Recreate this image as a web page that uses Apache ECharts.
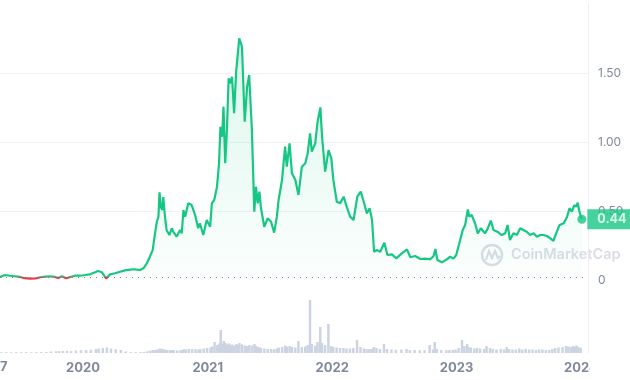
<!DOCTYPE html>
<html><head><meta charset="utf-8">
<script src="https://cdn.jsdelivr.net/npm/echarts@6/dist/echarts.min.js"></script>
<style>html,body{margin:0;padding:0;background:#fff}#c{width:630px;height:380px}</style>
</head><body><div id="c"></div>
<script>
const dates = [
'2019-05-06','2019-05-21','2019-06-04','2019-06-19','2019-07-04','2019-07-18','2019-08-02','2019-08-17','2019-08-31','2019-09-15','2019-09-29','2019-10-14','2019-10-23','2019-11-03','2019-11-15','2019-11-27','2019-12-11','2019-12-26',
'2020-01-10','2020-01-24','2020-02-08','2020-02-16','2020-02-28','2020-03-11','2020-03-23','2020-04-06','2020-04-21','2020-05-05','2020-05-20','2020-06-03','2020-06-18','2020-06-28','2020-07-08','2020-07-17','2020-07-25','2020-08-01','2020-08-06','2020-08-11','2020-08-14','2020-08-18','2020-08-22','2020-08-25','2020-08-30','2020-09-04','2020-09-12','2020-09-19','2020-09-23','2020-10-03','2020-10-13','2020-10-18','2020-10-23','2020-10-28','2020-11-06','2020-11-16','2020-11-26','2020-12-05','2020-12-10','2020-12-20','2020-12-30',
'2021-01-09','2021-01-14','2021-01-21','2021-01-29','2021-02-04','2021-02-08','2021-02-13','2021-02-17','2021-02-22','2021-02-27','2021-03-04','2021-03-09','2021-03-14','2021-03-20','2021-03-26','2021-03-30','2021-04-04','2021-04-12','2021-04-20','2021-04-27','2021-05-03','2021-05-11','2021-05-18','2021-05-23','2021-05-28','2021-06-02','2021-06-06','2021-06-16','2021-06-26','2021-07-06','2021-07-15','2021-07-23','2021-07-28','2021-08-07','2021-08-16','2021-08-21','2021-08-29','2021-09-05','2021-09-15','2021-09-24','2021-10-04','2021-10-14','2021-10-21','2021-10-28','2021-11-02','2021-11-12','2021-11-19','2021-11-27','2021-12-02','2021-12-11','2021-12-21','2021-12-29',
'2022-01-04','2022-01-14','2022-01-24','2022-02-03','2022-02-12','2022-02-22','2022-03-04','2022-03-15','2022-03-25','2022-04-04','2022-04-12','2022-04-20','2022-04-27','2022-05-03','2022-05-11','2022-05-21','2022-06-02','2022-06-11','2022-06-24','2022-07-07','2022-07-23','2022-08-07','2022-08-17','2022-08-31','2022-09-15','2022-09-29','2022-10-14','2022-10-24','2022-10-29','2022-11-04','2022-11-17','2022-12-02','2022-12-11','2022-12-21','2022-12-29',
'2023-01-07','2023-01-17','2023-01-24','2023-02-01','2023-02-05','2023-02-12','2023-02-22','2023-03-02','2023-03-11','2023-03-23','2023-03-30','2023-04-09','2023-04-17','2023-04-28','2023-05-11','2023-05-21','2023-05-28','2023-06-04','2023-06-14','2023-06-24','2023-07-04','2023-07-13','2023-07-23','2023-08-02','2023-08-12','2023-08-22','2023-08-31','2023-09-10','2023-09-20','2023-09-30','2023-10-09','2023-10-17','2023-10-27','2023-11-08','2023-11-18','2023-11-25','2023-12-02','2023-12-09','2023-12-15','2023-12-19','2023-12-24','2023-12-31'
];
const prices = [
0.022,0.036,0.031,0.027,0.022,0.013,0.010,0.011,0.020,0.024,0.027,0.022,0.014,0.027,0.013,0.022,0.031,0.031,
0.036,0.041,0.056,0.065,0.056,0.012,0.041,0.049,0.060,0.070,0.075,0.078,0.072,0.085,0.121,0.169,0.217,0.338,0.42,0.46,0.635,0.53,0.507,0.60,0.46,0.36,0.326,0.375,0.35,0.314,0.362,0.338,0.507,0.459,0.556,0.543,0.471,0.375,0.411,0.326,0.435,
0.386,0.556,0.58,0.676,0.846,1.111,1.038,1.256,0.846,1.087,1.462,1.425,1.473,1.208,1.51,1.498,1.751,1.69,1.147,1.40,1.486,1.087,0.495,0.676,0.556,0.64,0.531,0.386,0.447,0.422,0.343,0.459,0.58,0.725,0.966,0.821,0.99,0.773,0.725,0.616,0.821,0.846,0.918,1.063,0.93,0.99,1.147,1.251,1.038,0.785,0.942,0.882,
0.725,0.567,0.556,0.604,0.531,0.459,0.435,0.604,0.64,0.556,0.483,0.52,0.435,0.205,0.217,0.205,0.27,0.181,0.186,0.157,0.193,0.222,0.165,0.174,0.152,0.155,0.15,0.174,0.225,0.145,0.128,0.15,0.169,0.155,0.181,
0.266,0.362,0.399,0.512,0.459,0.471,0.411,0.338,0.375,0.338,0.367,0.43,0.362,0.35,0.326,0.338,0.399,0.29,0.338,0.326,0.375,0.362,0.35,0.326,0.338,0.314,0.326,0.326,0.319,0.302,0.283,0.338,0.399,0.411,0.459,0.52,0.495,0.543,0.531,0.56,0.495,0.44
];
const volumes = [
8,8,8,9,8,8,8,8,9,10,15,18,18,20,22,18,25,28,
30,32,40,45,50,55,45,38,30,15,8,8,9,12,18,25,30,32,35,38,45,40,35,38,32,30,28,30,28,26,28,30,38,35,42,40,38,35,40,45,50,
55,65,110,80,95,230,90,120,100,85,95,80,85,75,90,80,100,85,75,70,80,75,90,70,60,55,50,45,40,40,38,45,55,60,75,65,70,60,55,120,60,65,80,530,90,75,110,260,100,80,290,70,
60,55,50,50,45,45,50,130,60,45,40,40,40,60,50,40,90,40,35,32,35,40,30,30,28,28,80,35,110,40,30,28,30,30,35,
50,130,70,90,60,55,45,50,45,40,70,50,40,35,40,35,60,40,35,35,45,35,40,35,35,30,35,35,30,30,40,50,55,60,70,65,60,70,65,75,60,55
];
const startPrice = 0.022;
const axisStart = '2019-05-06';
const axisEnd = '2024-01-18';

const GREEN = '#16c784', RED = '#ea3943', GREY = '#808a9d';
const chart = echarts.init(document.getElementById('c'));
const priceData = dates.map((d, i) => [d, prices[i]]);
const volData = dates.map((d, i) => [d, volumes[i]]);
const last = priceData[priceData.length - 1];

const option = {
  animation: false,
  textStyle: { fontFamily: 'Inter' },
  grid: [
    { left: 0, right: 42, top: 4, height: 276 },
    { left: 0, right: 42, top: 281, bottom: 27 }
  ],
  xAxis: [
    { type: 'time', gridIndex: 0, min: axisStart, max: axisEnd,
      axisLine: { show: false }, axisTick: { show: false }, axisLabel: { show: false }, splitLine: { show: false } },
    { type: 'time', gridIndex: 1, min: axisStart, max: axisEnd, splitNumber: 5,
      axisLine: { show: false }, axisTick: { show: false }, splitLine: { show: false },
      axisLabel: {
        formatter: { year: '{yyyy}', month: '', day: '', hour: '', minute: '', second: '', millisecond: '' },
        color: GREY, fontWeight: 'bold', fontSize: 13, margin: 9
      } }
  ],
  yAxis: [
    { type: 'value', gridIndex: 0, position: 'right', min: 0, max: 2, interval: 0.5,
      axisLine: { show: true, lineStyle: { color: '#eceff3' } }, axisTick: { show: false },
      axisLabel: { color: GREY, fontSize: 12, margin: 10, showMaxLabel: false,
        formatter: v => v === 0 ? '0' : v.toFixed(2) },
      splitLine: { show: true, showMinLine: false, showMaxLine: false, lineStyle: { color: '#f1f2f5' } } },
    { type: 'value', gridIndex: 1, position: 'right', min: 0, max: 720,
      axisLine: { show: true, lineStyle: { color: '#eceff3' } }, axisTick: { show: false },
      axisLabel: { show: false }, splitLine: { show: false } }
  ],
  series: [
    { id: 'price', type: 'line', xAxisIndex: 0, yAxisIndex: 0, data: priceData, showSymbol: false, z: 3,
      lineStyle: { width: 2.2, color: GREEN },
      areaStyle: { color: new echarts.graphic.LinearGradient(0, 0, 0, 1, [
        { offset: 0, color: 'rgba(22,199,132,0.22)' },
        { offset: 1, color: 'rgba(22,199,132,0.02)' }]) },
      markLine: { silent: true, symbol: 'none', label: { show: false },
        lineStyle: { color: '#7c818b', type: [1, 5], width: 1.2 },
        data: [{ yAxis: startPrice }] } },
    { type: 'scatter', xAxisIndex: 0, yAxisIndex: 0, data: [last], symbolSize: 9, z: 6,
      itemStyle: { color: GREEN },
      label: { show: true, position: 'right', distance: 1, formatter: p => p.value[1].toFixed(2),
        backgroundColor: GREEN, color: '#fff', fontWeight: 'bold', fontSize: 12.5,
        padding: [4, 11, 3, 10] } },
    { type: 'bar', xAxisIndex: 1, yAxisIndex: 1, data: volData, barWidth: 2.5,
      itemStyle: { color: '#cdd4e1' } }
  ],
  graphic: [
    { type: 'text', left: 0, top: 361, style: { text: '7', fill: GREY, font: 'bold 13px Inter' } },
    { type: 'rect', shape: { x: 590, y: 356, width: 40, height: 24 }, style: { fill: '#fff' }, z: 100 },
    { type: 'circle', shape: { cx: 492, cy: 255, r: 10 }, style: { fill: 'none', stroke: '#d9dde4', lineWidth: 2.5 }, z: 0 },
    { type: 'polyline', shape: { points: [[486, 260], [489, 251], [492, 258], [495, 251], [498, 258], [500, 256]] },
      style: { fill: 'none', stroke: '#d9dde4', lineWidth: 2.2 }, z: 0 },
    { type: 'text', left: 511, top: 247, style: { text: 'CoinMarketCap', fill: '#d9dde4', font: '600 14.5px Inter' }, z: 0 }
  ]
};
try {
  chart.setOption(option);
  // colour the line red below the starting price, green above it
  const yBase = chart.convertToPixel({ yAxisIndex: 0 }, startPrice);
  const H = 380, f = yBase / H;
  chart.setOption({ series: [{ id: 'price', lineStyle: { color: new echarts.graphic.LinearGradient(0, 0, 0, H, [
    { offset: 0, color: GREEN }, { offset: f, color: GREEN }, { offset: f, color: RED }, { offset: 1, color: RED }], true) } }] });
} catch (e) {
  console.error(e);
}
</script></body></html>
